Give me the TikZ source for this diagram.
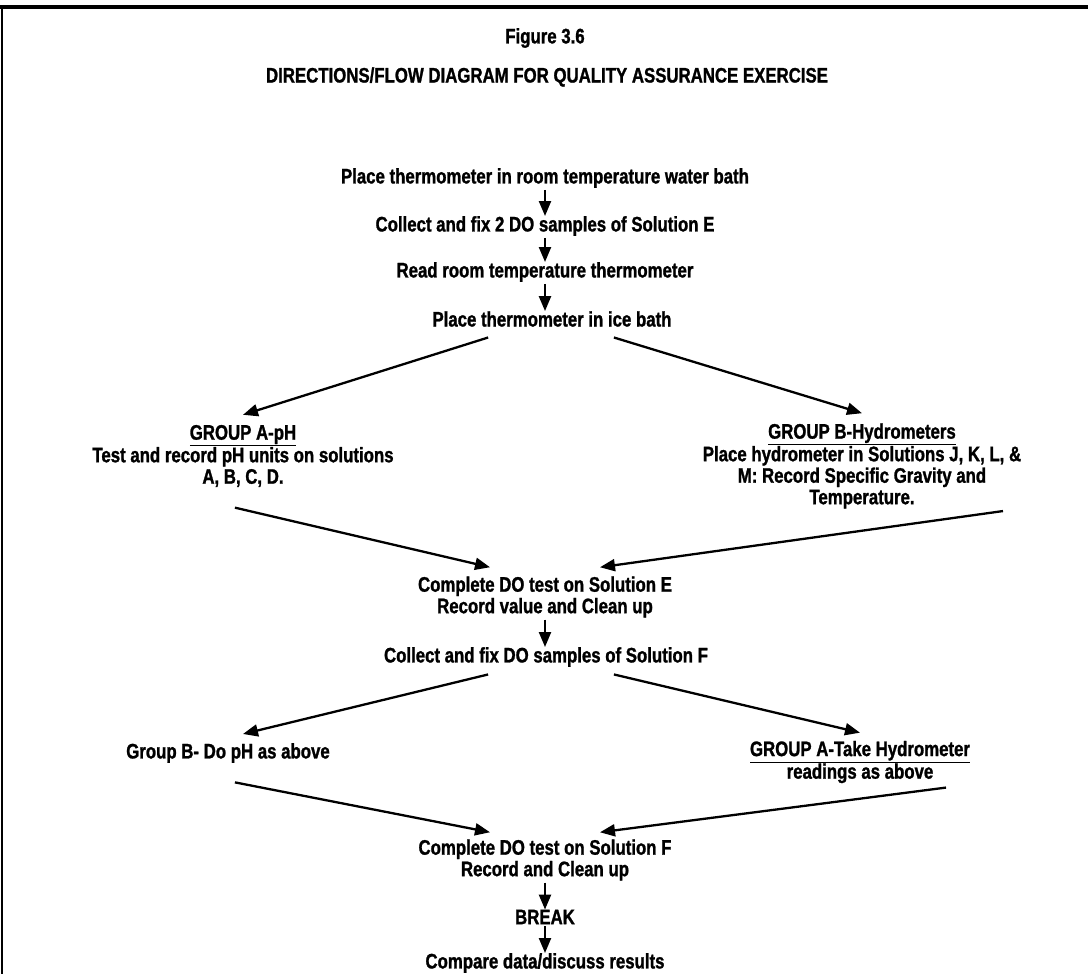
\documentclass[tikz,border=0pt]{standalone}
\usepackage{fontspec}
\setmainfont{Liberation Sans}[FakeStretch=0.8, FakeBold=1.2]
\usetikzlibrary{arrows.meta,calc}
\tikzstyle{stage}=[font=\bfseries\fontsize{21}{21.5}\selectfont, align=center, inner sep=0pt]
\tikzstyle{edge}=[draw, line width=2.3pt, shorten <=2pt, -{Triangle[length=15pt,width=12pt]}]
\tikzstyle{frame}=[draw, line width=4pt]
\begin{document}
\begin{tikzpicture}[x=1pt, y=-1pt]
    \useasboundingbox (0,0) rectangle (1088,974);
    % Page frame
    \path[frame] (0,7) -- (1088,7);
    \path[frame, line width=1.5pt] (2,7) -- (2,974);
    % Heading
    \node[stage] (fig) at (545,38) {Figure 3.6};
    \node[stage] (title) at (547,77) {DIRECTIONS/FLOW DIAGRAM FOR QUALITY ASSURANCE EXERCISE};
    % Steps down the middle
    \foreach \pos/\name/\txt in {{(545,178)/s1/Place thermometer in room temperature water bath},
                                 {(545,226)/s2/Collect and fix 2 DO samples of Solution E},
                                 {(545,272)/s3/Read room temperature thermometer},
                                 {(552,319)/s4/Place thermometer in ice bath},
                                 {(545,597)/doE/Complete DO test on Solution E\\Record value and Clean up},
                                 {(546,657)/fixF/Collect and fix DO samples of Solution F},
                                 {(545,860)/doF/Complete DO test on Solution F\\Record and Clean up},
                                 {(545,917)/brk/BREAK},
                                 {(545,963)/cmp/{Compare data/discuss results}}}
        \node[stage] (\name) at \pos {\txt};
    % Group branches
    \node[stage] (grpA) at (243,456) {\underline{GROUP A-pH}\\Test and record pH units on solutions\\A, B, C, D.};
    \node[stage] (grpB) at (862,466) {\underline{GROUP B-Hydrometers}\\Place hydrometer in Solutions J, K, L, \&\\M: Record Specific Gravity and\\Temperature.};
    \node[stage] (grpBpH) at (228,753) {Group B- Do pH as above};
    \node[stage] (grpAH) at (860,762) {\underline{GROUP A-Take Hydrometer}\\readings as above};
    % Straight arrows
    \foreach \source/\dest in {s1/s2, s2/s3, s3/s4, doE/fixF, doF/brk, brk/cmp}
        \path[edge] (\source.south) -- (\source.south |- \dest.north);
    % Split and merge arrows
    \path[edge] ([xshift=-62pt,yshift=-10pt]s4.south) -- ([yshift=10pt]grpA.north);
    \path[edge] ([xshift=60pt,yshift=-10pt]s4.south) -- ([yshift=10pt]grpB.north);
    \path[edge] ([xshift=-10pt,yshift=-20pt]grpA.south) -- ([xshift=-55pt,yshift=9pt]doE.north);
    \path[edge] ([xshift=143pt,yshift=-2pt]grpB.south) -- ([xshift=55pt,yshift=9pt]doE.north);
    \path[edge] ([xshift=-56pt,yshift=-7pt]fixF.south) -- ([xshift=15pt,yshift=9pt]grpBpH.north);
    \path[edge] ([xshift=66pt,yshift=-7pt]fixF.south) -- ([yshift=8pt]grpAH.north);
    \path[edge] ([xshift=5pt,yshift=-19pt]grpBpH.south) -- ([xshift=-55pt,yshift=7pt]doF.north);
    \path[edge] ([xshift=88pt,yshift=-4pt]grpAH.south) -- ([xshift=55pt,yshift=7pt]doF.north);
\end{tikzpicture}
\end{document}
